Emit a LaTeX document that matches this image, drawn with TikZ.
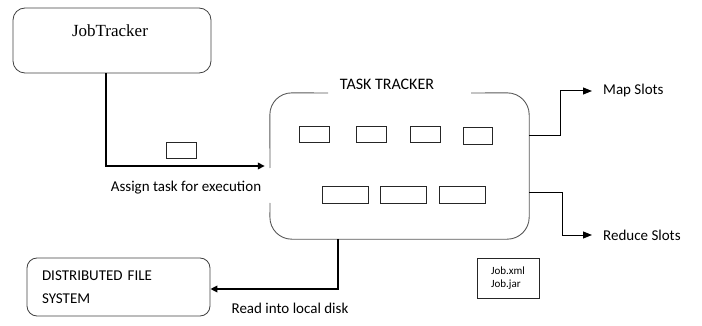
\documentclass[tikz,border=0pt]{standalone}
\usepackage{fontspec}
\setmainfont{Carlito}
\newfontfamily\seriffont{Liberation Serif}
\usetikzlibrary{arrows.meta, positioning}

\begin{document}
\begin{tikzpicture}[
        x=1pt, y=-1pt,
        box/.style={rectangle, draw=black!75, line width=0.8pt, rounded corners=12pt, inner sep=0pt},
        ttborder/.style={draw=black!65, line width=0.9pt, rounded corners=22pt},
        slotbox/.style={rectangle, draw=black!85, line width=0.8pt, minimum width=30pt, minimum height=16pt, inner sep=0pt},
        wideslot/.style={slotbox, minimum width=46pt, minimum height=17pt},
        txt/.style={font=\fontsize{15}{17}\selectfont, inner sep=0pt},
        thickarrow/.style={-{Triangle[length=7pt,width=6.5pt]}, line width=2.5pt},
        slotarrow/.style={-{Triangle[length=9pt,width=7pt]}, line width=1pt}
    ]
        \useasboundingbox (0,0) rectangle (702,326);

        % Nodes
        \node[box, minimum width=198pt, minimum height=65pt] (jobtracker) at (112,40.5) {};
        \node[font=\seriffont\fontsize{17}{20}\selectfont, inner sep=0pt] (jtname) at (110,31) {JobTracker};

        \node[minimum width=259pt, minimum height=146pt, inner sep=0pt] (tasktracker) at (399.5,166) {};
        \node[txt, font=\fontsize{16}{18}\selectfont] (tttitle) at (387,84) {TASK TRACKER};

        \node[slotbox] (map1) at (314,134) {};
        \node[slotbox] (map2) at (371,134) {};
        \node[slotbox] (map3) at (425,134) {};
        \node[slotbox, minimum width=29pt, minimum height=17pt] (map4) at (477.5,135.5) {};
        \node[wideslot] (red1) at (345,194.5) {};
        \node[wideslot] (red2) at (403,195) {};
        \node[wideslot] (red3) at (462,195) {};

        \node[slotbox] (task) at (181,150.5) {};
        \node[txt] (assign) at (186,188) {Assign task for execution};

        \node[txt, anchor=west, inner xsep=11pt] (mapslots) at (592,91) {Map Slots};
        \node[txt, anchor=west, inner xsep=11pt] (reduceslots) at (592,235) {Reduce Slots};

        \node[box, rounded corners=10pt, minimum width=183pt, minimum height=58pt, inner xsep=15pt,
              text width=153pt, align=left, font=\fontsize{15}{23}\selectfont] (dfs) at (118.5,287) {DISTRIBUTED FILE\\SYSTEM};
        \node[txt] (readlocal) at (290,308) {Read into local disk};

        \node[rectangle, draw=black!85, line width=0.8pt, minimum width=62pt, minimum height=40pt,
              align=left, font=\fontsize{11}{13}\selectfont] (jobfiles) at (508,278) {Job.xml\\Job.jar};

        % Task tracker border
        \draw[ttborder] (328,93) -- (tasktracker.north west) -- (270,168);
        \draw[ttborder] (270,203) -- (tasktracker.south west) -- (tasktracker.south east)
            -- (tasktracker.north east) -- (471,93);

        % Arrows
        \draw[thickarrow] ([xshift=-6pt]jobtracker.south) |- ([xshift=-5pt]tasktracker.west);
        \draw[thickarrow] ([xshift=-61.5pt]tasktracker.south) |- ([yshift=-2pt]dfs.east);
        \draw[slotarrow] ([yshift=30pt]tasktracker.east) -- ++(31,0) |- (mapslots.west);
        \draw[slotarrow] ([yshift=-27pt]tasktracker.east) -- ++(33,0) |- (reduceslots.west);
    \end{tikzpicture}
\end{document}
